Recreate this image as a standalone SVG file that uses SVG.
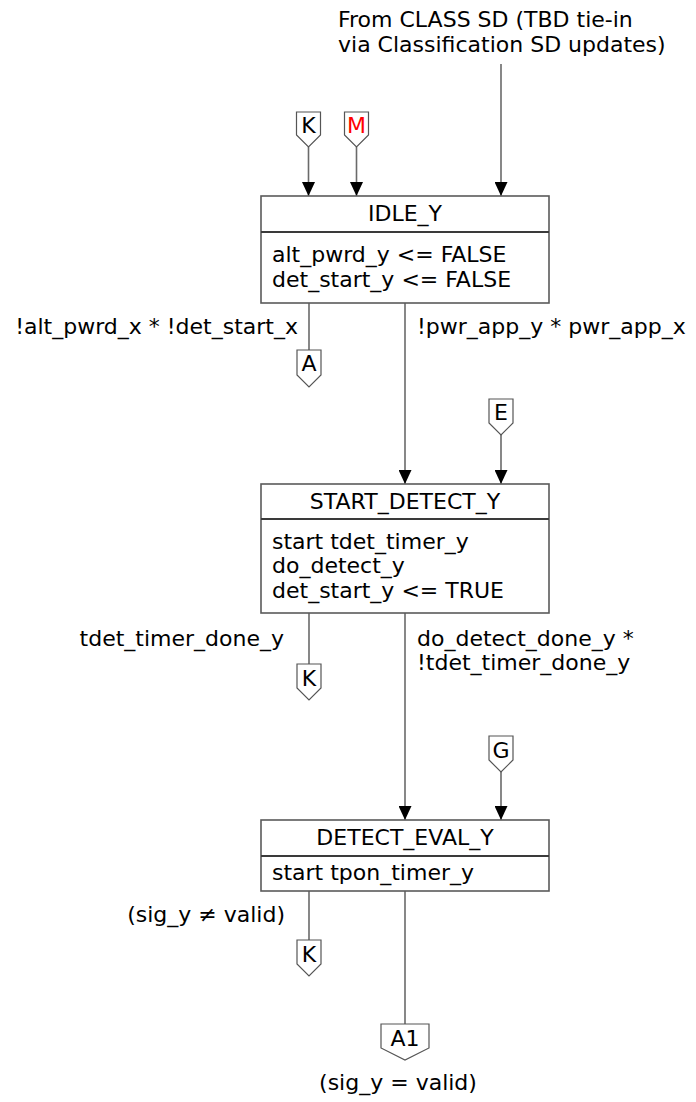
<svg xmlns="http://www.w3.org/2000/svg" width="696" height="1102" viewBox="0 0 696 1102">
<style>
text{font-family:"DejaVu Sans","Liberation Sans",sans-serif;font-size:22px;fill:#000}
.box{fill:#fff;stroke:#5a5a5a;stroke-width:1.6}
.div{stroke:#3a3a3a;stroke-width:2.2}
.ln{fill:none;stroke:#6a6a6a;stroke-width:1.6}
.off{fill:#fff;stroke:#555;stroke-width:1.2}
.mid{text-anchor:middle}
.end{text-anchor:end}
.red{fill:#f00}
</style>
<defs>
<marker id="arr" viewBox="0 0 14 13" refX="14" refY="6.5" markerWidth="14" markerHeight="13" markerUnits="userSpaceOnUse" orient="auto">
<path d="M0,0 L14,6.5 L0,13 z" fill="#000"/>
</marker>
</defs>

<g id="connectors">
<line class="ln" x1="501" y1="64" x2="501" y2="196" marker-end="url(#arr)"/>
<line class="ln" x1="308.5" y1="147" x2="308.5" y2="196" marker-end="url(#arr)"/>
<line class="ln" x1="356.5" y1="147" x2="356.5" y2="196" marker-end="url(#arr)"/>
<line class="ln" x1="309" y1="303" x2="309" y2="350"/>
<line class="ln" x1="405" y1="303" x2="405" y2="484" marker-end="url(#arr)"/>
<line class="ln" x1="501" y1="435" x2="501" y2="484" marker-end="url(#arr)"/>
<line class="ln" x1="309" y1="613" x2="309" y2="664"/>
<line class="ln" x1="405" y1="613" x2="405" y2="820" marker-end="url(#arr)"/>
<line class="ln" x1="501" y1="772" x2="501" y2="820" marker-end="url(#arr)"/>
<line class="ln" x1="309" y1="891" x2="309" y2="940"/>
<line class="ln" x1="405" y1="891" x2="405" y2="1024"/>
<text x="298" y="334" class="end">!alt_pwrd_x * !det_start_x</text>
<text x="417" y="334">!pwr_app_y * pwr_app_x</text>
<text x="284" y="646" class="end">tdet_timer_done_y</text>
<text x="417" y="646">do_detect_done_y *</text>
<text x="417" y="670">!tdet_timer_done_y</text>
<text x="285" y="922" class="end">(sig_y ≠ valid)</text>
<text x="398" y="1090" class="mid">(sig_y = valid)</text>
</g>

<g id="source_note">
<text x="338" y="27">From CLASS SD (TBD tie-in</text>
<text x="338" y="52">via Classification SD updates)</text>
</g>

<g id="off_K1">
<path class="off" d="M296.5,112 H320.5 V135 L308.5,147 L296.5,135 Z"/>
<text x="308.5" y="133" class="mid">K</text>
</g>
<g id="off_M">
<path class="off" d="M344.5,112 H368.5 V135 L356.5,147 L344.5,135 Z"/>
<text x="356.5" y="133" class="mid red">M</text>
</g>

<g id="IDLE_Y">
<rect class="box" x="261" y="196" width="288" height="107"/>
<line class="div" x1="261" y1="232" x2="549" y2="232"/>
<text x="405" y="221" class="mid">IDLE_Y</text>
<text x="272" y="262">alt_pwrd_y &lt;= FALSE</text>
<text x="272" y="287">det_start_y &lt;= FALSE</text>
</g>

<g id="off_A">
<path class="off" d="M297,350 H321 V375 L309,387 L297,375 Z"/>
<text x="309" y="371" class="mid">A</text>
</g>
<g id="off_E">
<path class="off" d="M489,399 H513 V423 L501,435 L489,423 Z"/>
<text x="501" y="420" class="mid">E</text>
</g>

<g id="START_DETECT_Y">
<rect class="box" x="261" y="484" width="288" height="129"/>
<line class="div" x1="261" y1="519" x2="549" y2="519"/>
<text x="405" y="509" class="mid">START_DETECT_Y</text>
<text x="272" y="549">start tdet_timer_y</text>
<text x="272" y="573">do_detect_y</text>
<text x="272" y="598">det_start_y &lt;= TRUE</text>
</g>

<g id="off_K2">
<path class="off" d="M297,664 H321 V688 L309,700 L297,688 Z"/>
<text x="309" y="686" class="mid">K</text>
</g>
<g id="off_G">
<path class="off" d="M489,736 H513 V760 L501,772 L489,760 Z"/>
<text x="501" y="758" class="mid">G</text>
</g>

<g id="DETECT_EVAL_Y">
<rect class="box" x="261" y="820" width="288" height="71"/>
<line class="div" x1="261" y1="856" x2="549" y2="856"/>
<text x="405" y="845" class="mid">DETECT_EVAL_Y</text>
<text x="272" y="880">start tpon_timer_y</text>
</g>

<g id="off_K3">
<path class="off" d="M297,940 H321 V964 L309,976 L297,964 Z"/>
<text x="309" y="962" class="mid">K</text>
</g>
<g id="off_A1">
<path class="off" d="M381,1024 H429 V1048 L405,1060 L381,1048 Z"/>
<text x="405" y="1046" class="mid">A1</text>
</g>
</svg>
